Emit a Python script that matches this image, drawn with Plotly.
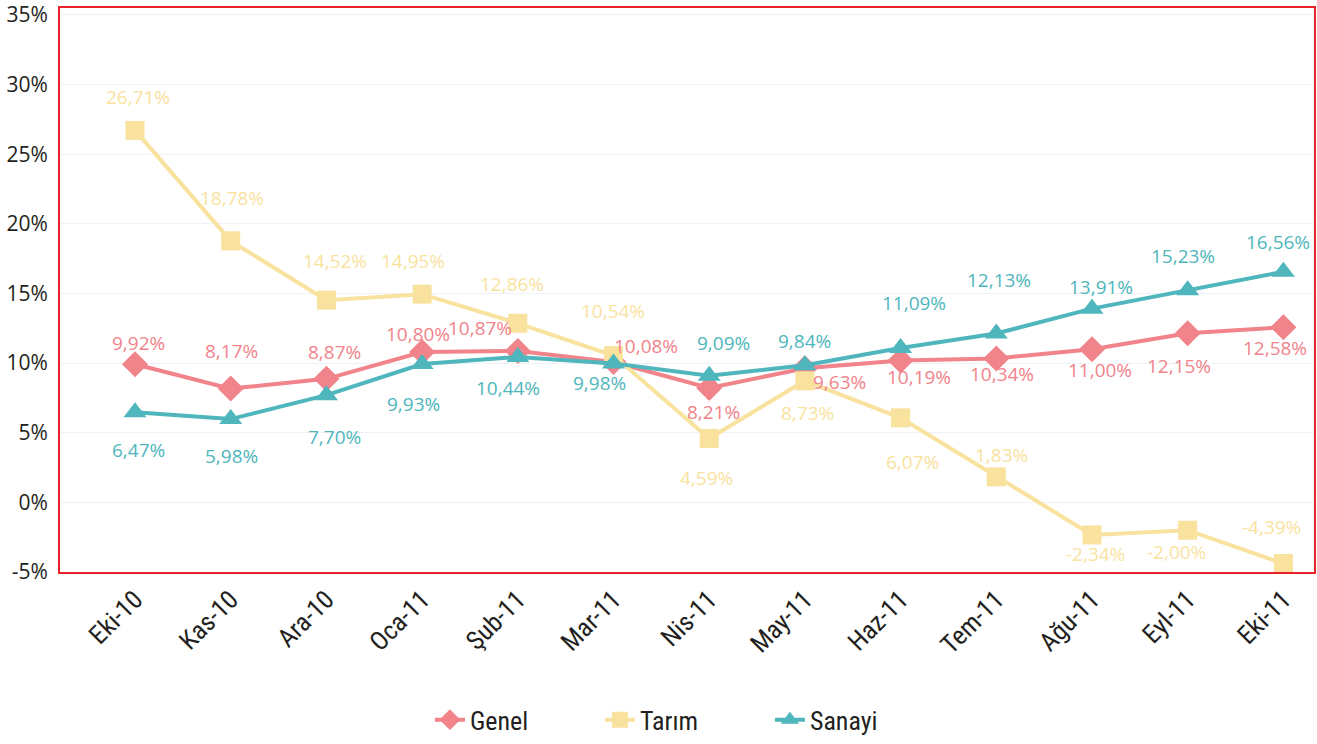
import plotly.graph_objects as go

months = ["Eki-10", "Kas-10", "Ara-10", "Oca-11", "Şub-11", "Mar-11", "Nis-11",
          "May-11", "Haz-11", "Tem-11", "Ağu-11", "Eyl-11", "Eki-11"]
genel = [9.92, 8.17, 8.87, 10.80, 10.87, 10.08, 8.21, 9.63, 10.19, 10.34, 11.00, 12.15, 12.58]
tarim = [26.71, 18.78, 14.52, 14.95, 12.86, 10.54, 4.59, 8.73, 6.07, 1.83, -2.34, -2.00, -4.39]
sanayi = [6.47, 5.98, 7.70, 9.93, 10.44, 9.98, 9.09, 9.84, 11.09, 12.13, 13.91, 15.23, 16.56]

y_ticks = [-5, 0, 5, 10, 15, 20, 25, 30, 35]
y_ticktext = ["-5%", "0%", "5%", "10%", "15%", "20%", "25%", "30%", "35%"]

# label offsets in pixels (dx, dy-up)
genel_off = [(3, 21), (1, 38), (8, 27), (-4, 18), (-38, 23), (32, 16), (4, -24),
             (35, -14), (18, -17), (6, -16), (8, -21), (-9, -33), (-8, -21)]
tarim_off = [(3, 33), (1, 43), (9, 39), (-9, 33), (-6, 39), (-1, 45), (-3, -40),
             (3, -32), (12, -44), (5, 22), (4, -19), (-11, -22), (-12, 37)]
sanayi_off = [(3, -38), (1, -37), (8, -42), (-9, -40), (-10, -31), (-14, -20), (14, 33),
              (0, 24), (13, 45), (3, 53), (9, 22), (-5, 34), (-5, 30)]

C_GENEL = "#F1838A"
C_TARIM = "#F9E29E"
C_SANAYI = "#4EB6BC"

series = [
    ("Genel", genel, C_GENEL, "diamond", 20, genel_off),
    ("Tarım", tarim, C_TARIM, "square", 19, tarim_off),
    ("Sanayi", sanayi, C_SANAYI, "triangle-up", 20, sanayi_off),
]

fig = go.Figure()
annotations = []
for name, vals, col, sym, size, offs in series:
    fig.add_trace(go.Scatter(
        x=months, y=vals, name=name, mode="lines+markers",
        line=dict(color=col, width=4),
        marker=dict(symbol=sym, size=size, color=col),
    ))
    for m, v, (dx, dy) in zip(months, vals, offs):
        annotations.append(dict(
            x=m, y=v, xref="x", yref="y", showarrow=False,
            text=f"{v:.2f}".replace(".", ",") + "%",
            xshift=dx, yshift=dy,
            font=dict(family="Open Sans, DejaVu Sans, sans-serif", size=19, color=col),
        ))

fig.update_layout(
    width=1317, height=744,
    margin=dict(l=60, r=3, t=8, b=172, autoexpand=False),
    paper_bgcolor="white", plot_bgcolor="white",
    annotations=annotations,
    showlegend=True,
    legend=dict(
        orientation="h", x=0.295, xanchor="left", y=-0.262, yanchor="middle",
        entrywidth=125, entrywidthmode="pixels",
        font=dict(family="Roboto Condensed, Liberation Sans Narrow, Roboto, sans-serif", size=26, color="#231F20"),
    ),
    xaxis=dict(
        type="category", range=[-0.784, 12.32], automargin=False,
        showline=True, linecolor="#E8232A", linewidth=2, mirror=True,
        showgrid=False, ticks="", tickangle=-45,
        tickfont=dict(family="Roboto Condensed, Liberation Sans Narrow, Roboto, sans-serif", size=26, color="#231F20"),
    ),
    yaxis=dict(
        range=[-5, 35.5], tickvals=y_ticks, ticktext=y_ticktext, automargin=False,
        showline=True, linecolor="#E8232A", linewidth=2, mirror=True,
        showgrid=True, gridcolor="#EEF2F6", gridwidth=1, zeroline=False,
        ticks="", ticklabelstandoff=6,
        tickfont=dict(family="Open Sans, DejaVu Sans, sans-serif", size=21, color="#231F20"),
    ),
)

fig.write_html("out.html", config={"displayModeBar": False},
               post_script="document.body.style.margin='0';document.body.style.overflow='hidden';")
